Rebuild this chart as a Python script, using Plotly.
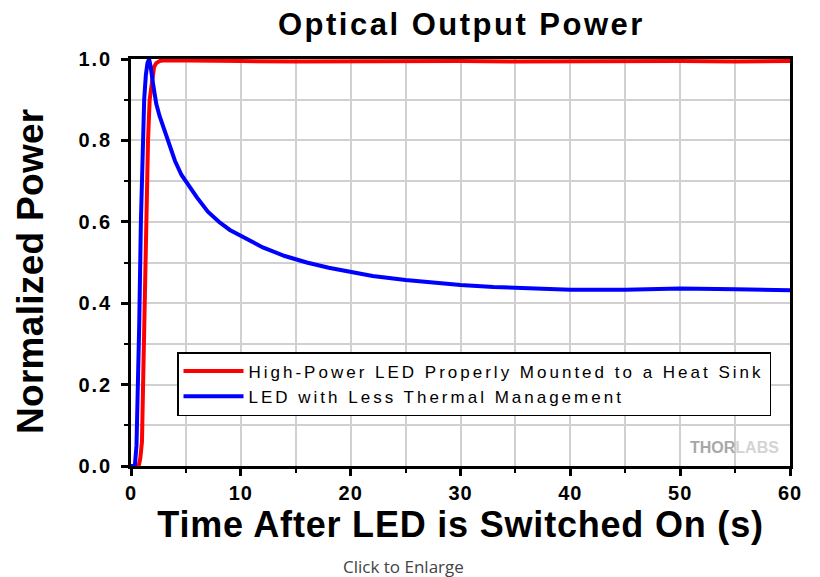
import plotly.graph_objects as go

# Time (s) and normalized power values
t_blue = [0, 0.35, 0.5, 0.6, 0.75, 0.9, 1.05, 1.2, 1.35, 1.5, 1.65, 1.8, 2.0, 2.3, 2.6,
          3.0, 3.5, 4.0, 4.6, 5.2, 6, 7, 8, 9, 10, 12, 14, 16, 18, 20, 22, 25, 28, 30,
          33, 36, 40, 45, 50, 55, 60]
p_blue = [0, 0, 0.05, 0.14, 0.35, 0.6, 0.75, 0.9, 0.96, 0.99, 1.0, 0.98, 0.94, 0.89, 0.86,
          0.83, 0.79, 0.75, 0.715, 0.69, 0.66, 0.625, 0.6, 0.58, 0.565, 0.537, 0.516, 0.5,
          0.487, 0.476, 0.467, 0.457, 0.449, 0.445, 0.44, 0.437, 0.433, 0.433, 0.436, 0.434, 0.432]

t_red = [0, 0.7, 0.85, 1.0, 1.1, 1.25, 1.4, 1.55, 1.7, 1.9, 2.1, 2.3, 2.6, 3, 5, 10, 15,
         20, 25, 30, 35, 40, 45, 50, 55, 60]
p_red = [0, 0, 0.02, 0.06, 0.2, 0.45, 0.65, 0.8, 0.9, 0.95, 0.98, 0.99, 0.995, 0.997, 0.997,
         0.995, 0.994, 0.995, 0.994, 0.995, 0.994, 0.995, 0.994, 0.995, 0.994, 0.995]

name_red = "High-Power LED Properly Mounted to a Heat Sink"
name_blue = "LED with Less Thermal Management"

x_ticks = [0, 10, 20, 30, 40, 50, 60]
y_ticks = [0.0, 0.2, 0.4, 0.6, 0.8, 1.0]

FONT = "Liberation Sans, Arial, sans-serif"


def spaced(s, px):
    return f"<span style='letter-spacing:{px}px'>{s}</span>"


fig = go.Figure()
fig.add_trace(go.Scatter(x=t_red, y=p_red, mode="lines", name=spaced(name_red, 3.0),
                         line=dict(color="#ff0000", width=4)))
fig.add_trace(go.Scatter(x=t_blue, y=p_blue, mode="lines", name=spaced(name_blue, 3.0),
                         line=dict(color="#0000ff", width=4)))

axis_common = dict(
    showline=True, linecolor="black", linewidth=2.5, mirror=True,
    ticks="outside", ticklen=7, tickwidth=2.5, tickcolor="black",
    showgrid=True, gridcolor="#d0d0d0", gridwidth=1.5,
    tickfont=dict(family=FONT, size=20, color="black", weight="bold"),
    zeroline=False,
)

fig.update_xaxes(
    range=[0, 60], tickvals=x_ticks, ticktext=[spaced(str(v), 1) for v in x_ticks],
    minor=dict(dtick=5, ticklen=4, tickwidth=2, tickcolor="black", ticks="outside",
               showgrid=True, gridcolor="#d0d0d0", gridwidth=1.5),
    title=dict(text=spaced("Time After LED is Switched On (s)", 0.8),
               font=dict(family=FONT, size=36, color="black", weight="bold"), standoff=3),
    **axis_common,
)
fig.update_yaxes(
    range=[0, 1.0], tickvals=y_ticks, ticktext=[spaced(f"{v:.1f}", 2) for v in y_ticks],
    ticklabelstandoff=5,
    minor=dict(dtick=0.1, ticklen=4, tickwidth=2, tickcolor="black", ticks="outside",
               showgrid=True, gridcolor="#d0d0d0", gridwidth=1.5),
    **axis_common,
)

fig.update_layout(
    width=812, height=569,
    margin=dict(l=123, r=30, t=51, b=111),
    paper_bgcolor="white", plot_bgcolor="white",
    legend=dict(x=(177 - 131) / 659, y=(466 - 352) / 407, xanchor="left", yanchor="top",
                bgcolor="white", bordercolor="black", borderwidth=1.5,
                font=dict(family=FONT, size=17, color="black"),
                itemwidth=60, tracegroupgap=0),
    showlegend=True,
    annotations=[
        dict(text=spaced("Optical Output Power", 2.5), xref="paper", yref="paper",
             x=(461 - 131) / 659, y=(466 - 24) / 407,
             xanchor="center", yanchor="middle", showarrow=False,
             font=dict(family=FONT, size=31, color="black", weight="bold")),
        dict(text=spaced("Normalized Power", 0.3), xref="paper", yref="paper",
             x=(30 - 131) / 659, y=(466 - 271) / 407, textangle=-90,
             xanchor="center", yanchor="middle", showarrow=False,
             font=dict(family=FONT, size=37, color="black", weight="bold")),
        dict(text="Click to Enlarge", xref="paper", yref="paper", x=(403 - 131) / 659,
             y=-(566 - 466) / 407, xanchor="center", yanchor="middle", showarrow=False,
             font=dict(family="Open Sans, sans-serif", size=17, color="#444444")),
        dict(text="<b>THOR</b><span style='color:#d4d4d4'><b>LABS</b></span>", xref="paper",
             yref="paper", x=(734 - 131) / 659, y=(466 - 447) / 407,
             xanchor="center", yanchor="middle", showarrow=False,
             font=dict(family=FONT, size=16, color="#a8a8a8")),
    ],
)

fig.write_html("out.html")
